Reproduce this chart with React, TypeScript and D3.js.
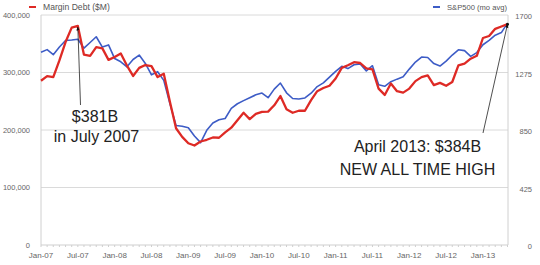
import React from 'react';
import * as d3 from 'd3';

const xLabels = ['Jan-07','Jul-07','Jan-08','Jul-08','Jan-09','Jul-09','Jan-10','Jul-10','Jan-11','Jul-11','Jan-12','Jul-12','Jan-13'];
const leftTicks = [0, 100000, 200000, 300000, 400000];
const rightTicks = [0, 425, 850, 1275, 1700];

// Margin debt ($M), monthly Jan-07 .. end
const marginDebt = [
  285600, 293600, 292000, 321000, 353000, 378000, 381000, 331000, 329000, 344000, 342000, 322000,
  327000, 333000, 312000, 294000, 308000, 313000, 311000, 292000, 298000, 249000, 203000, 188000,
  177000, 173000, 180000, 183000, 187000, 186500, 196000, 204000, 217000, 230000, 219000, 228000,
  231500, 232000, 243000, 259000, 236000, 230000, 233500, 233500, 252000, 267500, 273000, 277000,
  289500, 308000, 312500, 318000, 316500, 307000, 305500, 272000, 261000, 281000, 267500, 265000,
  272000, 285000, 292000, 295000, 278000, 282000, 277000, 283500, 312500, 315500, 324000, 329000,
  360000, 363500, 376000, 380000, 384000,
];

// S&P500 monthly average
const sp500 = [
  1424, 1444, 1407, 1463, 1511, 1515, 1521, 1455, 1497, 1539, 1463, 1479,
  1378, 1354, 1317, 1371, 1404, 1342, 1258, 1281, 1217, 1045, 883, 878,
  866, 806, 757, 848, 902, 926, 935, 1010, 1044, 1067, 1088, 1110,
  1123, 1089, 1152, 1197, 1125, 1083, 1079, 1087, 1122, 1171, 1198, 1241,
  1283, 1321, 1304, 1332, 1338, 1287, 1325, 1185, 1173, 1207, 1226, 1243,
  1300, 1352, 1389, 1386, 1341, 1323, 1359, 1404, 1443, 1437, 1394, 1422,
  1480, 1512, 1551, 1570, 1640,
];

const seriesNames = ['Margin Debt ($M)', 'S&P500 (mo avg)'];
const peakIndex = 6;
const highIndex = marginDebt.length - 1;

const W = 540, H = 265;
const L = 41, R = 508, T = 15, B = 245;
const RED = '#de2a25';
const BLUE = '#3d5cc6';
const FONT = '"Liberation Sans", Arial, Helvetica, sans-serif';

export default function App() {
  const n = marginDebt.length;
  const x = d3.scaleLinear().domain([0, n - 1]).range([L, R - 0.5]);
  const yL = d3.scaleLinear().domain([0, 400000]).range([B, T]);
  const yR = d3.scaleLinear().domain([0, 1700]).range([B, T]);
  const redLine = d3.line<number>().x((_, i) => x(i)).y(d => yL(d));
  const blueLine = d3.line<number>().x((_, i) => x(i)).y(d => yR(d));
  const fmt = d3.format(',');

  const px = x(peakIndex), py = yL(marginDebt[peakIndex]);
  const hx = x(highIndex), hy = yL(marginDebt[highIndex]);

  return (
    <svg width={W} height={H} style={{ position: 'absolute', left: 0, top: 0, background: '#fff' }} fontFamily={FONT}>
      <defs>
        <marker id="ah" viewBox="0 0 10 10" refX="9" refY="5" markerWidth="5" markerHeight="5" orient="auto-start-reverse">
          <path d="M0,1 L10,5 L0,9 z" fill="#111" />
        </marker>
      </defs>
      {/* gridlines */}
      {leftTicks.slice(1).map(t => (
        <line key={t} x1={L} x2={R} y1={yL(t)} y2={yL(t)} stroke="#dadada" strokeWidth={1} />
      ))}
      {/* axes */}
      <line x1={L} x2={L} y1={T} y2={B} stroke="#d0d0d0" />
      <line x1={R} x2={R} y1={T} y2={B} stroke="#d0d0d0" />
      <line x1={L} x2={R} y1={B} y2={B} stroke="#cfcfcf" />
      {d3.range(n).map(i => (
        <line key={i} x1={x(i)} x2={x(i)} y1={B} y2={B + 2} stroke="#cfcfcf" />
      ))}
      {/* left ticks */}
      {leftTicks.map(t => (
        <text key={t} x={30} y={yL(t)} dy="0.35em" textAnchor="end" fontSize={7.5} fill="#666">{fmt(t)}</text>
      ))}
      {rightTicks.map(t => (
        <text key={t} x={532} y={yR(t) + 1.5} dy="0.35em" textAnchor="end" fontSize={7.5} fill="#666">{t}</text>
      ))}
      {xLabels.map((lab, k) => (
        <text key={lab} x={x(k * 6)} y={258} textAnchor="middle" fontSize={8} fill="#666">{lab}</text>
      ))}
      {/* series */}
      <path d={blueLine(sp500) || ''} fill="none" stroke={BLUE} strokeWidth={1.6} strokeLinejoin="round" />
      <path d={redLine(marginDebt) || ''} fill="none" stroke={RED} strokeWidth={2.3} strokeLinejoin="round" />
      {/* legend */}
      <line x1={29} x2={36} y1={7} y2={7} stroke={RED} strokeWidth={2} />
      <text x={43} y={10} fontSize={8.6} fill="#555">{seriesNames[0]}</text>
      <line x1={433} x2={440} y1={7} y2={7} stroke={BLUE} strokeWidth={2} />
      <text x={447} y={10} fontSize={7.6} fill="#555">{seriesNames[1]}</text>
      {/* annotations */}
      <line x1={80.5} y1={105} x2={px} y2={py + 1} stroke="#222" strokeWidth={0.8} markerEnd="url(#ah)" />
      <text x={95} y={121.5} textAnchor="middle" fontSize={16} fill="#222">$381B</text>
      <text x={96.5} y={141.5} textAnchor="middle" fontSize={16} fill="#222">in July 2007</text>
      <line x1={483} y1={133} x2={hx} y2={hy} stroke="#222" strokeWidth={0.8} markerEnd="url(#ah)" />
      <circle cx={hx} cy={hy} r={1.5} fill="#111" />
      <text x={417.5} y={151.5} textAnchor="middle" fontSize={16} fill="#222">April 2013: $384B</text>
      <text x={417.5} y={175} textAnchor="middle" fontSize={16} fill="#222">NEW ALL TIME HIGH</text>
    </svg>
  );
}
